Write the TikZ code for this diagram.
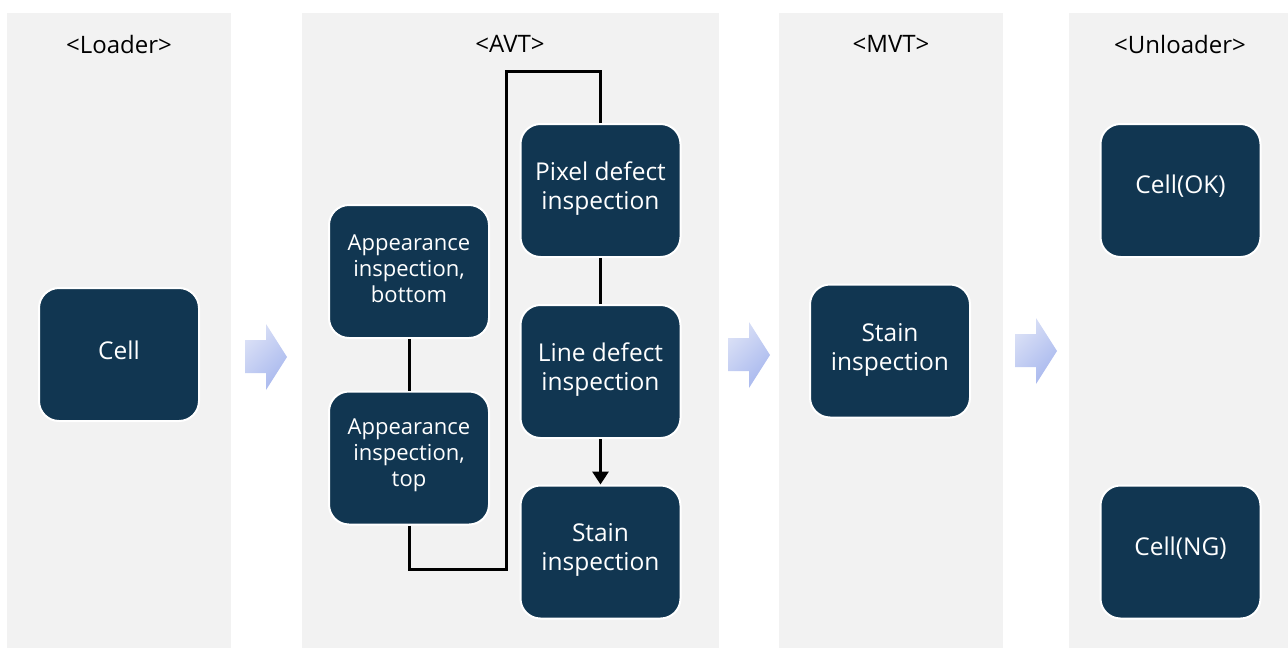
\documentclass[tikz,border=0pt]{standalone}
\usepackage{fontspec}
\setmainfont{Open Sans}
\usetikzlibrary{arrows.meta}
\definecolor{navy}{RGB}{17,54,81}
\definecolor{panel}{RGB}{242,242,242}
\definecolor{arrL}{RGB}{218,224,246}
\definecolor{arrD}{RGB}{168,184,238}
\tikzset{
  box/.style={rounded corners=20pt, fill=navy, draw=white, line width=2pt,
    minimum width=160pt, minimum height=133pt, inner sep=0pt},
  btext/.style={text=white, align=center, inner sep=0pt,
    font=\fontsize{24.5}{29}\selectfont},
  stext/.style={text=white, align=center, inner sep=0pt,
    font=\fontsize{22}{26}\selectfont},
  hdr/.style={font=\fontsize{24}{29}\selectfont, text=black},
  conn/.style={line width=3pt, draw=black},
  bigarrow/.style={top color=arrL, bottom color=arrD, shading angle=45}
}
\newcommand\mybox[5]{%
  \node[box] (#1) at (#2) {};
  \node[#3] (#1t) at ([yshift=#4]#1.center) {#5};}
\begin{document}
\begin{tikzpicture}[x=1pt,y=-1pt]
\useasboundingbox (0,0) rectangle (1288,648);
% panels
\fill[panel] (7,13) rectangle (231,648);
\fill[panel] (302,13) rectangle (719,648);
\fill[panel] (779,13) rectangle (1003,648);
\fill[panel] (1069,13) rectangle (1288,648);
% headers
\node[hdr] (hL) at (119,44) {<Loader>};
\node[hdr] (hA) at (510,44) {<AVT>};
\node[hdr] (hM) at (891,44) {<MVT>};
\node[hdr] (hU) at (1180,44) {<Unloader>};
% block arrows
\shade[bigarrow] (245,340) -- (266,340) -- (266,324) -- (287,357) -- (266,390) -- (266,373) -- (245,373) -- cycle;
\shade[bigarrow] (728,338) -- (749,338) -- (749,322) -- (770,355) -- (749,388) -- (749,371) -- (728,371) -- cycle;
\shade[bigarrow] (1015,334) -- (1036,334) -- (1036,318) -- (1057,351) -- (1036,384) -- (1036,367) -- (1015,367) -- cycle;
% boxes
\mybox{cell}{119,354.5}{btext}{4pt}{Cell}
\mybox{appb}{409,271.5}{stext}{3pt}{Appearance\\inspection,\\bottom}
\mybox{appt}{409,458}{stext}{3pt}{Appearance\\inspection,\\top}
\mybox{pix}{600.5,190.5}{btext}{2pt}{Pixel defect\\inspection}
\mybox{line}{600.5,371.5}{btext}{2pt}{Line defect\\inspection}
\mybox{stA}{600.5,552}{btext}{2pt}{Stain\\inspection}
\mybox{stM}{890,351}{btext}{1pt}{Stain\\inspection}
\mybox{ok}{1180.5,190.5}{btext}{4pt}{Cell(OK)}
\mybox{ng}{1180.5,552}{btext}{4pt}{Cell(NG)}
% connectors
\coordinate (c1) at (506,569);
\coordinate (c2) at (506,71);
\draw[conn] (appb.south) -- (appt.north);
\draw[conn] (appt.south) |- (c1) -- (c2) -| (pix.north);
\draw[conn] (pix.south) -- (line.north);
\draw[conn,-{Triangle[length=13pt,width=16pt]}] (line.south) -- (stA.north);
\end{tikzpicture}
\end{document}
